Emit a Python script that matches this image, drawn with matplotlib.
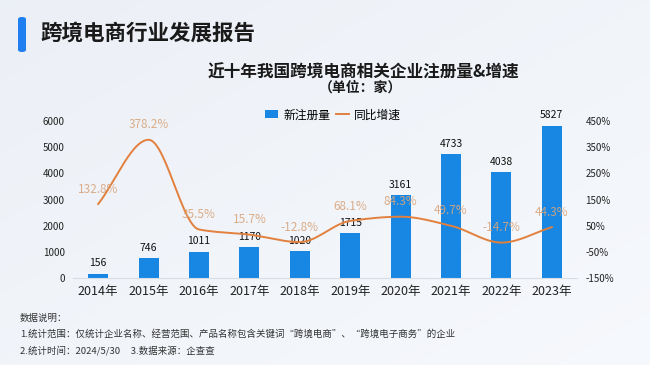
import numpy as np
import matplotlib
matplotlib.use('Agg')
import matplotlib.pyplot as plt
from matplotlib.patches import FancyBboxPatch
from matplotlib.lines import Line2D
from matplotlib.patches import Patch

plt.rcParams['font.family'] = ['Noto Sans CJK SC', 'DejaVu Sans']

# 数据
years = ['2014年', '2015年', '2016年', '2017年', '2018年',
         '2019年', '2020年', '2021年', '2022年', '2023年']
new_reg = [156, 746, 1011, 1170, 1020, 1715, 3161, 4733, 4038, 5827]
growth = [132.8, 378.2, 35.5, 15.7, -12.8, 68.1, 84.3, 49.7, -14.7, 44.3]
left_ticks = [0, 1000, 2000, 3000, 4000, 5000, 6000]
right_ticks = [-150, -50, 50, 150, 250, 350, 450]

BLUE = '#1787e3'
ORANGE = '#e2803e'
LABEL_ORANGE = '#d9a57c'


def smooth(x, y, n=30):
    # 单调三次插值 (Fritsch-Carlson)，只用于画平滑曲线
    x = np.asarray(x, float)
    y = np.asarray(y, float)
    d = np.diff(y) / np.diff(x)
    m = np.zeros_like(y)
    m[0], m[-1] = d[0], d[-1]
    for i in range(1, len(y) - 1):
        if d[i - 1] * d[i] <= 0:
            m[i] = 0
        else:
            m[i] = 2 / (1 / d[i - 1] + 1 / d[i])
    xs, ys = [], []
    for i in range(len(x) - 1):
        h = x[i + 1] - x[i]
        t = np.linspace(0, 1, n)
        h00 = 2 * t**3 - 3 * t**2 + 1
        h10 = t**3 - 2 * t**2 + t
        h01 = -2 * t**3 + 3 * t**2
        h11 = t**3 - t**2
        xs.append(x[i] + t * h)
        ys.append(h00 * y[i] + h10 * h * m[i] + h01 * y[i + 1] + h11 * h * m[i + 1])
    return np.concatenate(xs), np.concatenate(ys)


fig = plt.figure(figsize=(6.5, 3.65), dpi=100)

# 背景渐变
bg = fig.add_axes([0, 0, 1, 1], zorder=-10)
gx, gy = np.meshgrid(np.linspace(0, 1, 200), np.linspace(0, 1, 200))
g = 0.5 * gx + 0.5 * (1 - gy)
c1 = np.array([0.925, 0.94, 0.965])
c2 = np.array([0.965, 0.975, 0.99])
img = c1[None, None, :] * (1 - g[..., None]) + c2[None, None, :] * g[..., None]
bg.imshow(img, aspect='auto', extent=[0, 1, 0, 1], origin='lower')
bg.axis('off')

# 页眉
fig.patches.append(FancyBboxPatch((18 / 650, 1 - 52 / 365), 8 / 650, 35 / 365,
                                  boxstyle='round,pad=0,rounding_size=0.006',
                                  transform=fig.transFigure, facecolor='#1f7ef0',
                                  edgecolor='none'))
fig.text(40 / 650, 1 - 33 / 365, '跨境电商行业发展报告', fontsize=15.5,
         fontweight='bold', color='#1a1a1a', va='center', ha='left')

fig.text(363 / 650, 1 - 73 / 365, '近十年我国跨境电商相关企业注册量&增速', fontsize=12,
         fontweight='bold', color='#1a1a1a', va='center', ha='center')
fig.text(360 / 650, 1 - 88 / 365, '（单位：家）', fontsize=10,
         fontweight='bold', color='#1a1a1a', va='center', ha='center')

ax = fig.add_axes([73 / 650, 87 / 365, 504 / 650, 157 / 365])
ax.set_facecolor('none')
x = np.arange(len(years))
ax.bar(x, new_reg, width=0.4, color=BLUE, zorder=2)
for xi, v in zip(x, new_reg):
    ax.annotate(str(v), (xi, v), xytext=(0, 4), textcoords='offset points',
                ha='center', va='bottom', fontsize=7.5, color='#111111')
ax.set_xlim(-0.5, len(years) - 0.5)
ax.set_ylim(0, 6000)
ax.set_yticks(left_ticks)
ax.set_xticks(x)
ax.set_xticklabels(years, fontsize=9, color='#222222')
ax.tick_params(axis='y', labelsize=7, colors='#222222', length=0, pad=6)
ax.tick_params(axis='x', length=0, pad=5)
for s in ['top', 'right', 'left']:
    ax.spines[s].set_visible(False)
ax.spines['bottom'].set_color('#d8dce4')

ax2 = ax.twinx()
ax2.set_ylim(-150, 450)
ax2.set_yticks(right_ticks)
ax2.set_yticklabels([f'{t}%' for t in right_ticks])
ax2.tick_params(axis='y', labelsize=7, colors='#222222', length=0, pad=6)
for s in ax2.spines.values():
    s.set_visible(False)
sx, sy = smooth(x, growth)
ax2.plot(sx, sy, color=ORANGE, lw=1.4, zorder=3)
for xi, v in zip(x, growth):
    ax2.annotate(f'{v}%', (xi, v), xytext=(0, 6), textcoords='offset points',
                 ha='center', va='bottom', fontsize=8.5, color=LABEL_ORANGE,
                 alpha=0.9, zorder=4)

handles = [Patch(facecolor=BLUE, edgecolor='none'),
           Line2D([0], [0], color=ORANGE, lw=1.4)]
fig.legend(handles, ['新注册量', '同比增速'], loc='center', ncol=2,
           bbox_to_anchor=(333 / 650, 1 - 115 / 365), frameon=False,
           fontsize=8.5, handlelength=1.1, handleheight=0.7, columnspacing=0.5,
           handletextpad=0.4)

# 数据说明
fig.text(20 / 650, 1 - 318 / 365, '数据说明：', fontsize=6.8, color='#333333', va='center')
fig.text(20 / 650, 1 - 334 / 365,
         '1.统计范围：仅统计企业名称、经营范围、产品名称包含关键词“跨境电商”、“跨境电子商务”的企业',
         fontsize=6.8, color='#333333', va='center')
fig.text(20 / 650, 1 - 351 / 365, '2.统计时间：2024/5/30     3.数据来源：企查查',
         fontsize=6.8, color='#333333', va='center')

fig.savefig('out.png', dpi=100)
